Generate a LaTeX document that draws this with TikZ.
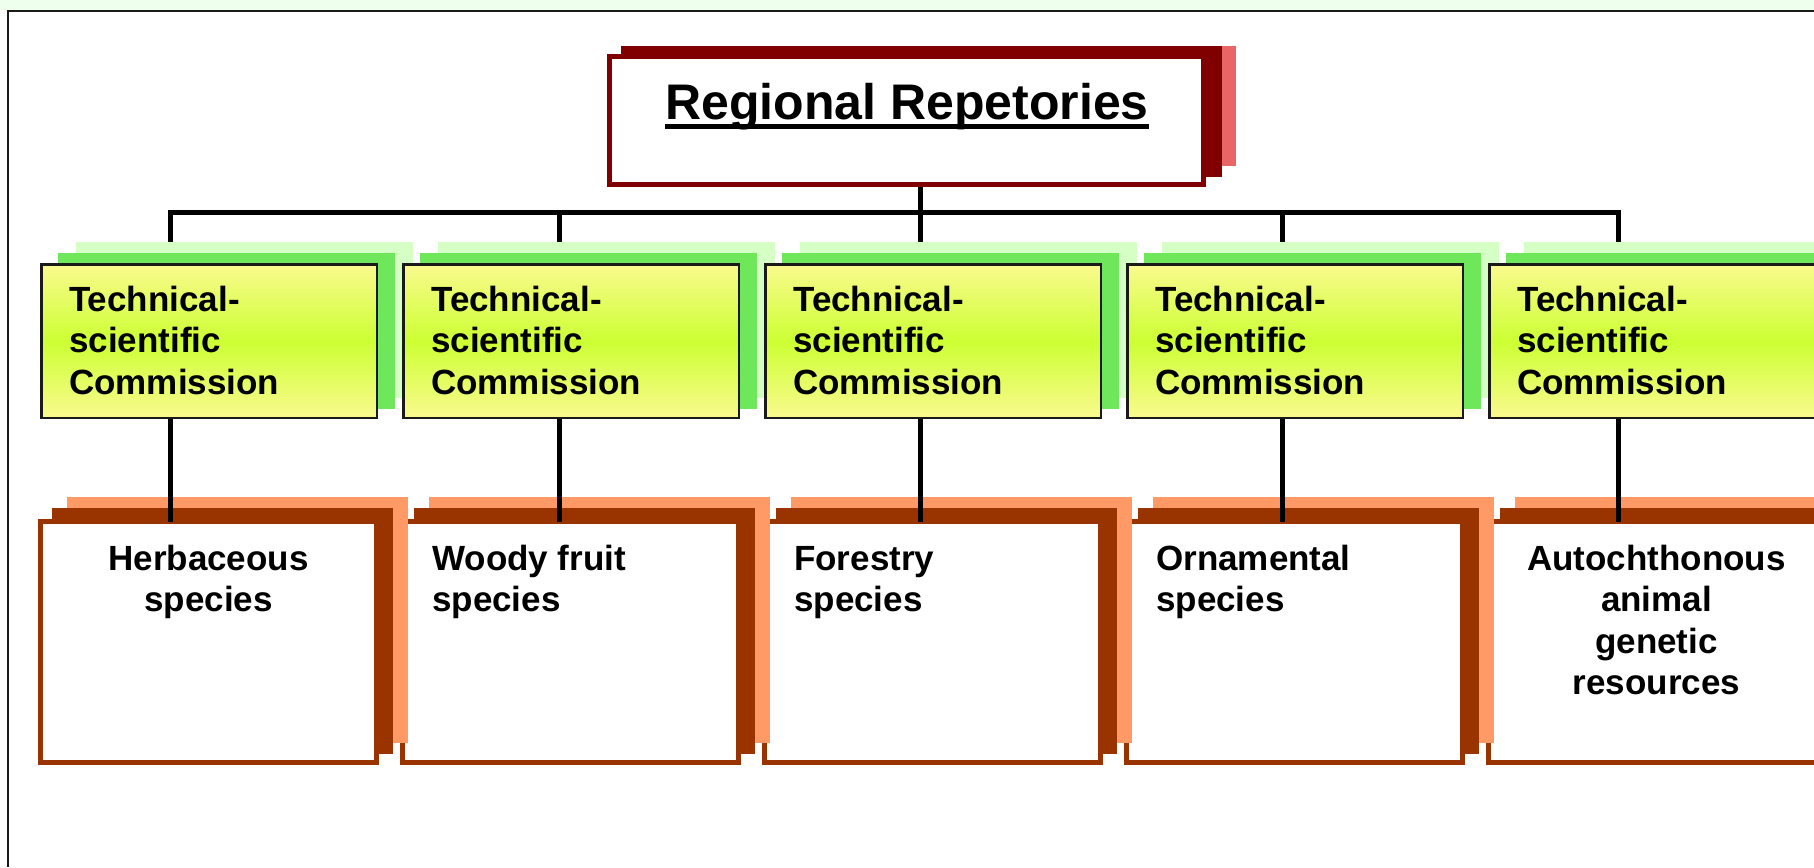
\documentclass[tikz,border=0pt]{standalone}
\usepackage{fontspec}
\setmainfont{Liberation Sans}
\pgfdeclarelayer{paper}
\pgfdeclarelayer{bg}
\pgfsetlayers{paper,bg,main}
\definecolor{stripc}{HTML}{EEFFEE}
\definecolor{tred}{HTML}{800000}
\definecolor{tredl}{HTML}{E86666}
\definecolor{gsha}{HTML}{6EE85A}
\definecolor{gshb}{HTML}{D5FFC4}
\definecolor{gtop}{HTML}{FAFA8E}
\definecolor{gmid}{HTML}{CCFF33}
\definecolor{obr}{HTML}{993300}
\definecolor{olt}{HTML}{FF9966}
\definecolor{gbd}{HTML}{1A1A1A}
\tikzset{
  tbox/.style={rectangle, draw=tred, fill=white, line width=5pt, inner sep=0pt,
    minimum width=594pt, minimum height=127.4pt},
  gbox/.style={rectangle, draw=gbd, line width=2.5pt, inner sep=0pt,
    top color=gtop, bottom color=gtop, middle color=gmid,
    minimum width=335.5pt, minimum height=153.5pt},
  obox/.style={rectangle, draw=obr, fill=white, line width=5pt, inner sep=0pt,
    minimum width=336pt, minimum height=241pt},
  gtext/.style={inner sep=0pt, align=left, font=\fontsize{35}{41.5}\selectfont\bfseries},
  otext/.style={inner sep=0pt, font=\fontsize{35}{41.5}\selectfont\bfseries},
  busline/.style={line width=5pt, line join=miter, draw=black},
  framel/.style={line width=2.5pt, draw=gbd},
}
\begin{document}
\begin{tikzpicture}[x=1pt,y=-1pt]
\useasboundingbox (0,0) rectangle (1814,867);
\begin{pgfonlayer}{paper}
\fill[white] (0,0) rectangle (1814,867);
\end{pgfonlayer}
\fill[stripc] (0,0) rectangle (1814,10);
\draw[framel] (6.75,11) -- (1814,11);
\draw[framel] (8,11) -- (8,867);

% top box
\fill[tredl] (636,46.5) rectangle (1235.5,166);
\fill[tred] (621,46.5) rectangle (1221.5,177);
\node[tbox] (top) at (906.5,120.5) {};
\node[anchor=base, inner sep=0pt, font=\fontsize{50}{60}\selectfont\bfseries] (title) at (907,119)
  {Regional Repetories};
\draw[line width=5pt] ([yshift=-7.7pt]title.base west) -- ([yshift=-7.7pt]title.base east);

% bus coordinates
\coordinate (b0) at (170,212);
\coordinate (b1) at (559,212);
\coordinate (b2) at (920,212);
\coordinate (b3) at (1282,212);
\coordinate (b4) at (1618,212);

% green boxes: shadows first, then fronts
\foreach \i in {0,...,4} {
  \pgfmathsetmacro\xg{40+362*\i}
  \fill[gshb] (\xg+36,242) rectangle (\xg+373,397.5);
  \fill[gsha] (\xg+18,253) rectangle (\xg+355,409);
}
\foreach \i in {0,...,4} {
  \pgfmathsetmacro\xg{40+362*\i}
  \node[gbox] (g\i) at (\xg+169,341) {};
  \node[gtext, anchor=north west] (gt\i) at (\xg+29,281)
    {\rule{0pt}{30pt}Technical-\\scientific\\Commission};
}

% orange boxes drawn right to left
\foreach \i in {4,3,2,1,0} {
  \pgfmathsetmacro\xo{38+362*\i}
  \fill[olt] (\xo+29,497) rectangle (\xo+370,743);
  \fill[obr] (\xo+14,508) rectangle (\xo+355,754);
  \node[obox] (o\i) at (\xo+170.5,642) {};
}

% connectors
\begin{pgfonlayer}{bg}
\draw[busline] (b2 |- top.south) -- (b2);
\draw[busline] (b0 |- g0.north) -- (b0) -- (b4) -- (b4 |- g4.north);
\foreach \i in {1,2,3} \draw[busline] (b\i) -- (b\i |- g\i.north);
\end{pgfonlayer}
\foreach \i in {0,...,4} \draw[busline, shorten >=-3pt] (b\i |- g\i.south) -- (b\i |- o\i.north);

% orange texts
\node[otext, align=center, anchor=north] (ot0) at (208.5,540) {\rule{0pt}{30pt}Herbaceous\\species};
\node[otext, align=left, anchor=north west] (ot1) at (432,540) {\rule{0pt}{30pt}Woody fruit\\species};
\node[otext, align=left, anchor=north west] (ot2) at (794,540) {\rule{0pt}{30pt}Forestry\\species};
\node[otext, align=left, anchor=north west] (ot3) at (1156,540) {\rule{0pt}{30pt}Ornamental\\species};
\node[otext, align=center, anchor=north] (ot4) at (1656.5,540) {\rule{0pt}{30pt}Autochthonous\\animal\\genetic\\resources};
\end{tikzpicture}
\end{document}
